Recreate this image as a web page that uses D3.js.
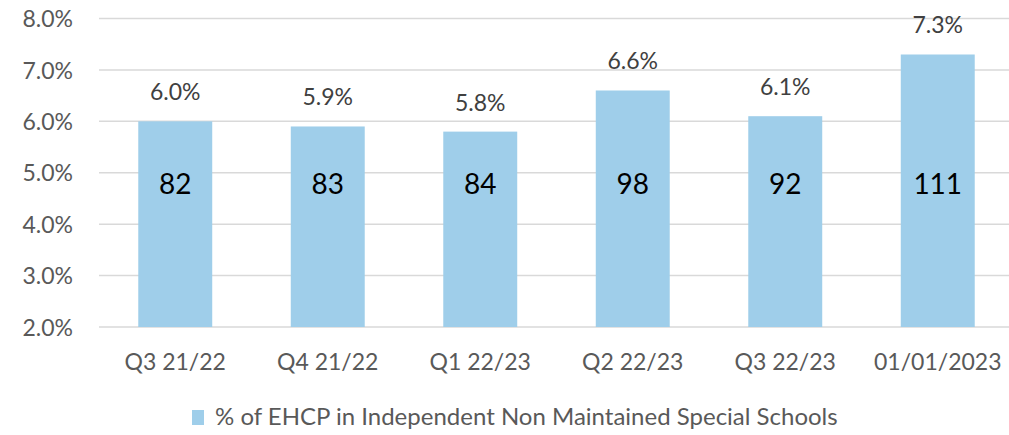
<!DOCTYPE html>
<html>
<head>
  <script src="https://d3js.org/d3.v7.min.js"></script>
  <style>
    html, body { margin: 0; padding: 0; background: #fff; overflow: hidden; }
    text { font-family: Lato, "Noto Sans", sans-serif; }
  </style>
</head>
<body>
  <svg></svg>
  <script>
    // chart data
    var periods = ["Q3 21/22", "Q4 21/22", "Q1 22/23", "Q2 22/23", "Q3 22/23", "01/01/2023"];
    var percents = [6.0, 5.9, 5.8, 6.6, 6.1, 7.3];
    var counts = [82, 83, 84, 98, 92, 111];
    var yTicks = [2, 3, 4, 5, 6, 7, 8];
    var seriesName = "% of EHCP in Independent Non Maintained Special Schools";

    var width = 1009, height = 435;
    var svg = d3.select("svg").attr("width", width).attr("height", height);

    var x = d3.scaleBand().domain(periods).range([99, 1014]).paddingInner(0.515).paddingOuter(0.2575);
    var y = d3.scaleLinear().domain([2, 8]).range([327, 18.5]);

    // gridlines
    svg.append("g")
      .selectAll("line")
      .data(yTicks)
      .join("line")
      .attr("x1", 99).attr("x2", width)
      .attr("y1", d => y(d)).attr("y2", d => y(d))
      .attr("stroke", "#d9d9d9")
      .attr("stroke-width", 1.5);

    // y tick labels
    svg.append("g")
      .selectAll("text")
      .data(yTicks)
      .join("text")
      .attr("x", 73)
      .attr("y", d => y(d))
      .attr("dy", "0.38em")
      .attr("text-anchor", "end")
      .attr("font-size", 23)
      .attr("fill", "#595959")
      .text(d => d.toFixed(1) + "%");

    var bars = periods.map((p, i) => ({ period: p, pct: percents[i], count: counts[i] }));

    svg.append("g")
      .selectAll("rect")
      .data(bars)
      .join("rect")
      .attr("x", d => x(d.period))
      .attr("width", x.bandwidth())
      .attr("y", d => y(d.pct))
      .attr("height", d => y(2) - y(d.pct))
      .attr("fill", "#9fceea");

    // percent labels above bars
    svg.append("g")
      .selectAll("text")
      .data(bars)
      .join("text")
      .attr("x", d => x(d.period) + x.bandwidth() / 2)
      .attr("y", d => y(d.pct) - 21)
      .attr("text-anchor", "middle")
      .attr("font-size", 23)
      .attr("fill", "#404040")
      .text(d => d.pct.toFixed(1) + "%");

    // counts inside bars
    svg.append("g")
      .selectAll("text")
      .data(bars)
      .join("text")
      .attr("x", d => x(d.period) + x.bandwidth() / 2)
      .attr("y", y(4.78))
      .attr("dy", "0.36em")
      .attr("text-anchor", "middle")
      .attr("font-size", 28)
      .attr("fill", "#000")
      .text(d => d.count);

    // x axis labels
    svg.append("g")
      .selectAll("text")
      .data(periods)
      .join("text")
      .attr("x", d => x(d) + x.bandwidth() / 2)
      .attr("y", 370)
      .attr("text-anchor", "middle")
      .attr("font-size", 23)
      .attr("fill", "#595959")
      .text(d => d);

    // legend
    var legend = svg.append("g");
    legend.append("rect")
      .attr("x", 192).attr("y", 410)
      .attr("width", 12).attr("height", 15)
      .attr("fill", "#9fceea");
    legend.append("text")
      .attr("x", 215).attr("y", 425)
      .attr("font-size", 24)
      .attr("fill", "#595959")
      .text(seriesName);
  </script>
</body>
</html>
